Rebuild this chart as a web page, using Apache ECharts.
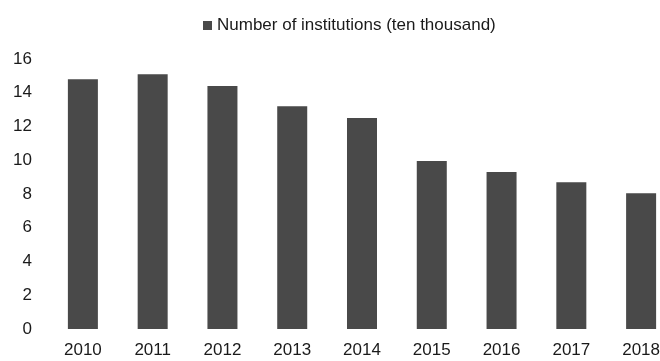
<!DOCTYPE html>
<html>
<head>
<meta charset="utf-8">
<script src="https://cdn.jsdelivr.net/npm/echarts@6/dist/echarts.min.js"></script>
<style>
html,body{margin:0;padding:0;background:#fff;overflow:hidden;}
/* the last category runs past the right edge in the original, so the chart is a bit wider than the window */
#chart{width:680px;height:361px;}
</style>
</head>
<body>
<div id="chart"></div>
<script>
var years = ['2010','2011','2012','2013','2014','2015','2016','2017','2018'];
var institutions = [14.8, 15.1, 14.4, 13.2, 12.5, 9.95, 9.3, 8.7, 8.05];
var seriesName = 'Number of institutions (ten thousand)';

var chart = echarts.init(document.getElementById('chart'));
var option = {
	animation: false,
	textStyle: { fontFamily: 'Liberation Sans, Arial, sans-serif' },
	legend: {
		left: 198,
		top: 12,
		itemWidth: 9,
		itemHeight: 9,
		itemGap: 6,
		icon: 'rect',
		textStyle: { fontSize: 17, color: '#1a1a1a' },
		data: [seriesName]
	},
	grid: { left: 48, right: 4, top: 59, bottom: 32, containLabel: false },
	xAxis: {
		type: 'category',
		data: years,
		axisLine: { show: false },
		axisTick: { show: false },
		axisLabel: { fontSize: 17, color: '#1a1a1a', margin: 13 }
	},
	yAxis: {
		type: 'value',
		min: 0,
		max: 16,
		interval: 2,
		axisLine: { show: false },
		axisTick: { show: false },
		splitLine: { show: false },
		axisLabel: { fontSize: 17, color: '#1a1a1a', margin: 16 }
	},
	series: [{
		name: seriesName,
		type: 'bar',
		data: institutions,
		barWidth: '43%',
		itemStyle: { color: '#494949' }
	}]
};
chart.setOption(option);
</script>
</body>
</html>
